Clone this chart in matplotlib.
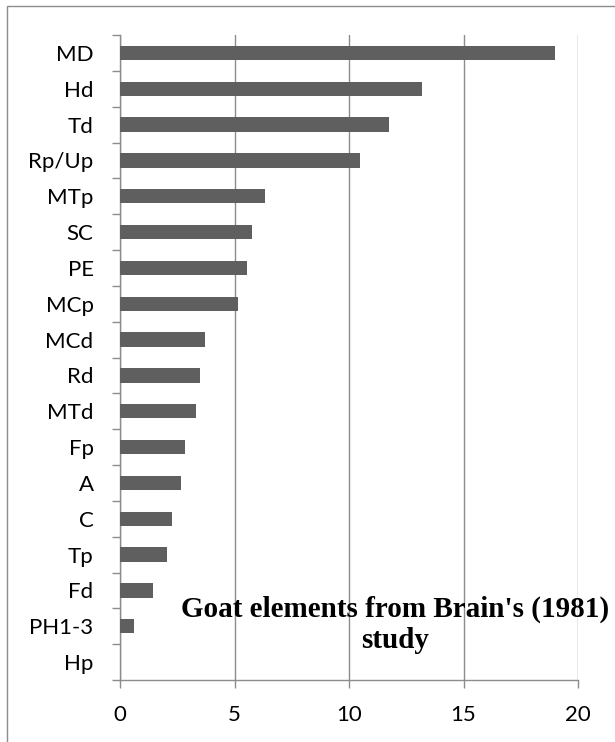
import matplotlib
matplotlib.use("Agg")
import matplotlib.pyplot as plt
from matplotlib.patches import Rectangle

# Goat elements (Brain 1981), top to bottom as shown
elementos = ["MD", "Hd", "Td", "Rp/Up", "MTp", "SC", "PE", "MCp", "MCd",
             "Rd", "MTd", "Fp", "A", "C", "Tp", "Fd", "PH1-3", "Hp"]
valores = [19.0, 13.2, 11.75, 10.5, 6.35, 5.75, 5.55, 5.15, 3.7,
           3.5, 3.3, 2.85, 2.65, 2.25, 2.05, 1.45, 0.6, 0.0]
ticks_x = [0, 5, 10, 15, 20]

GRIS_BARRA = "#5f5f5f"
GRIS_EJE = "#8c8c8c"

fig = plt.figure(figsize=(6.15, 7.42), dpi=100)
ax = fig.add_axes([120/615, 1 - 680/742, (578 - 120)/615, (680 - 35)/742])

n = len(elementos)
pos = list(range(n))[::-1]
ax.barh(pos, valores, height=0.4, color=GRIS_BARRA, zorder=3)

ax.set_xlim(0, 20)
ax.set_ylim(-0.5, n - 0.5)
ax.set_xticks(ticks_x)
ax.set_xticklabels([str(t) for t in ticks_x], fontfamily="Lato", fontsize=16)
ax.set_yticks(pos)
ax.set_yticklabels(elementos, fontfamily="Lato", fontsize=16)

# ticks de categoria en los bordes, no en el centro
ax.set_yticks([p + 0.5 for p in range(-1, n)], minor=True)
ax.tick_params(axis="y", which="major", length=0, pad=19)
ax.tick_params(axis="y", which="minor", length=6, width=1, color=GRIS_EJE, direction="out")
ax.tick_params(axis="x", which="major", length=6, width=1, color=GRIS_EJE, direction="out", pad=12)

ax.grid(axis="x", color=GRIS_EJE, linewidth=1, zorder=0)
for lado in ["top", "right"]:
    ax.spines[lado].set_visible(False)
for lado in ["left", "bottom"]:
    ax.spines[lado].set_color(GRIS_EJE)
    ax.spines[lado].set_linewidth(1)

fig.text(395/615, 1 - 625/742, "Goat elements from Brain's (1981)\nstudy",
         ha="center", va="center", multialignment="center",
         fontfamily="Liberation Serif", fontweight="bold", fontsize=21,
         linespacing=1.2, zorder=5)

# marco exterior (solo se ven los bordes izquierdo y superior)
fig.patches.append(Rectangle((7/615, -0.1), 1.2, 1 - 6/742 + 0.1,
                             transform=fig.transFigure, fill=False,
                             edgecolor=GRIS_EJE, linewidth=1))

fig.savefig("out.png", dpi=100)
